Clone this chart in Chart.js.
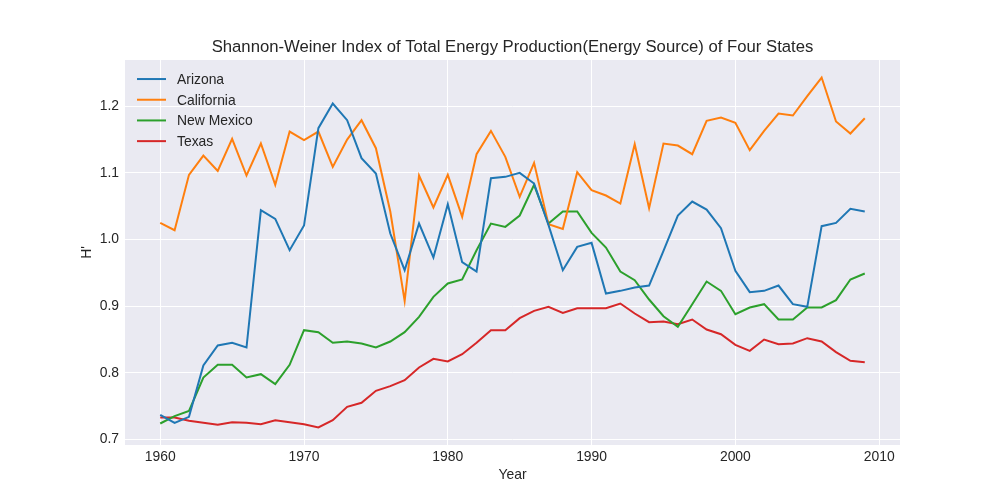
<!DOCTYPE html>
<html>
<head>
    <meta charset="utf-8">
    <script src="https://cdn.jsdelivr.net/npm/chart.js"></script>
    <style>
        body { margin: 0; background: #ffffff; }
    </style>
</head>
<body>
    <canvas id="myChart" width="1000" height="500"></canvas>
    <script>
        // values (Shannon-Weiner index H')
        var years = [1960, 1961, 1962, 1963, 1964, 1965, 1966, 1967, 1968, 1969,
                     1970, 1971, 1972, 1973, 1974, 1975, 1976, 1977, 1978, 1979,
                     1980, 1981, 1982, 1983, 1984, 1985, 1986, 1987, 1988, 1989,
                     1990, 1991, 1992, 1993, 1994, 1995, 1996, 1997, 1998, 1999,
                     2000, 2001, 2002, 2003, 2004, 2005, 2006, 2007, 2008, 2009];

        var arizona = [0.737, 0.725, 0.734, 0.811, 0.841, 0.845, 0.838, 1.044, 1.031, 0.984,
                       1.021, 1.167, 1.204, 1.179, 1.122, 1.099, 1.009, 0.954, 1.024, 0.973,
                       1.053, 0.966, 0.952, 1.092, 1.094, 1.100, 1.084, 1.022, 0.954, 0.989,
                       0.995, 0.919, 0.923, 0.928, 0.931, 0.983, 1.036, 1.057, 1.045, 1.017,
                       0.953, 0.921, 0.923, 0.931, 0.903, 0.899, 1.020, 1.025, 1.046, 1.042];

        var california = [1.025, 1.014, 1.097, 1.126, 1.103, 1.151, 1.096, 1.144, 1.082, 1.162,
                          1.149, 1.162, 1.109, 1.150, 1.179, 1.137, 1.042, 0.908, 1.096, 1.048,
                          1.097, 1.034, 1.128, 1.163, 1.124, 1.064, 1.115, 1.023, 1.016, 1.101,
                          1.074, 1.066, 1.054, 1.143, 1.047, 1.144, 1.141, 1.128, 1.178, 1.183,
                          1.175, 1.134, 1.163, 1.189, 1.186, 1.215, 1.243, 1.177, 1.159, 1.182];

        var newMexico = [0.724, 0.735, 0.743, 0.793, 0.812, 0.812, 0.793, 0.798, 0.783, 0.812,
                         0.864, 0.861, 0.845, 0.847, 0.844, 0.838, 0.847, 0.861, 0.884, 0.914,
                         0.934, 0.940, 0.984, 1.024, 1.019, 1.036, 1.082, 1.024, 1.042, 1.042,
                         1.010, 0.988, 0.952, 0.939, 0.910, 0.885, 0.869, 0.903, 0.937, 0.923,
                         0.888, 0.898, 0.903, 0.880, 0.880, 0.898, 0.898, 0.909, 0.940, 0.949];

        var texas = [0.733, 0.733, 0.728, 0.725, 0.722, 0.726, 0.725, 0.723, 0.729, 0.726,
                     0.723, 0.718, 0.729, 0.749, 0.755, 0.773, 0.780, 0.789, 0.808, 0.821,
                     0.817, 0.828, 0.845, 0.864, 0.864, 0.882, 0.893, 0.899, 0.890, 0.897,
                     0.897, 0.897, 0.904, 0.889, 0.876, 0.877, 0.873, 0.880, 0.865, 0.858,
                     0.842, 0.833, 0.850, 0.843, 0.844, 0.852, 0.847, 0.831, 0.818, 0.816];

        var xTicks = [1960, 1970, 1980, 1990, 2000, 2010];
        var yTicks = [0.7, 0.8, 0.9, 1.0, 1.1, 1.2];

        var FONT = "'Liberation Sans', Arial, sans-serif";
        var TEXT = '#262626';

        function points(values) {
            return values.map(function (v, i) { return { x: years[i], y: v }; });
        }

        function series(label, values, color) {
            return {
                label: label,
                data: points(values),
                borderColor: color,
                backgroundColor: color,
                borderWidth: 2,
                pointRadius: 0,
                tension: 0,
                fill: false
            };
        }

        // matplotlib style 5% margins around the data
        var allY = arizona.concat(california, newMexico, texas);
        var yMin = Math.min.apply(null, allY), yMax = Math.max.apply(null, allY);
        var yPad = (yMax - yMin) * 0.05;
        var xPad = (years[years.length - 1] - years[0]) * 0.05;

        // grey plot background like seaborn darkgrid
        var plotBackground = {
            id: 'plotBackground',
            beforeDraw: function (chart) {
                var a = chart.chartArea, ctx = chart.ctx;
                ctx.save();
                ctx.fillStyle = '#eaeaf2';
                ctx.fillRect(a.left, a.top, a.right - a.left, a.bottom - a.top);
                ctx.restore();
            }
        };

        // frameless legend in the upper left corner of the plot
        var innerLegend = {
            id: 'innerLegend',
            afterDatasetsDraw: function (chart) {
                var a = chart.chartArea, ctx = chart.ctx;
                ctx.save();
                ctx.font = '13.9px ' + FONT;
                ctx.textBaseline = 'middle';
                ctx.textAlign = 'left';
                chart.data.datasets.forEach(function (ds, i) {
                    var y = a.top + 19 + i * 20.7;
                    ctx.strokeStyle = ds.borderColor;
                    ctx.lineWidth = 2;
                    ctx.beginPath();
                    ctx.moveTo(a.left + 12, y);
                    ctx.lineTo(a.left + 41, y);
                    ctx.stroke();
                    ctx.fillStyle = TEXT;
                    ctx.fillText(ds.label, a.left + 52, y + 1);
                });
                ctx.restore();
            }
        };

        var ctx = document.getElementById('myChart').getContext('2d');
        var myChart = new Chart(ctx, {
            type: 'line',
            data: {
                datasets: [
                    series('Arizona', arizona, '#1f77b4'),
                    series('California', california, '#ff7f0e'),
                    series('New Mexico', newMexico, '#2ca02c'),
                    series('Texas', texas, '#d62728')
                ]
            },
            options: {
                responsive: false,
                animation: false,
                devicePixelRatio: 1,
                layout: { padding: { left: 0, right: 100, top: 0, bottom: 0 } },
                plugins: {
                    legend: { display: false },
                    tooltip: { enabled: false },
                    title: {
                        display: true,
                        fullSize: false,
                        text: 'Shannon-Weiner Index of Total Energy Production(Energy Source) of Four States',
                        color: TEXT,
                        font: { family: FONT, size: 16.7, weight: 'normal', lineHeight: 1.2 },
                        padding: { top: 37, bottom: 3 }
                    }
                },
                scales: {
                    x: {
                        type: 'linear',
                        min: years[0] - xPad,
                        max: years[years.length - 1] + xPad,
                        afterBuildTicks: function (scale) {
                            scale.ticks = xTicks.map(function (v) { return { value: v }; });
                        },
                        afterFit: function (scale) { scale.height = 55; },
                        grid: { color: '#ffffff', lineWidth: 1, drawTicks: false },
                        border: { display: false },
                        ticks: {
                            color: TEXT,
                            padding: 4,
                            maxRotation: 0,
                            font: { family: FONT, size: 13.9 },
                            callback: function (v) { return String(v); }
                        },
                        title: {
                            display: true,
                            text: 'Year',
                            color: TEXT,
                            font: { family: FONT, size: 13.9 },
                            padding: { top: 0, bottom: 16 }
                        }
                    },
                    y: {
                        min: yMin - yPad,
                        max: yMax + yPad,
                        afterBuildTicks: function (scale) {
                            scale.ticks = yTicks.map(function (v) { return { value: v }; });
                        },
                        afterFit: function (scale) { scale.width = 125; },
                        grid: { color: '#ffffff', lineWidth: 1, drawTicks: false },
                        border: { display: false },
                        ticks: {
                            color: TEXT,
                            padding: 6,
                            font: { family: FONT, size: 13.9 },
                            callback: function (v) { return v.toFixed(1); }
                        },
                        title: {
                            display: true,
                            text: "H'",
                            color: TEXT,
                            font: { family: FONT, size: 13.9 },
                            padding: { top: 79, bottom: 0 }
                        }
                    }
                }
            },
            plugins: [plotBackground, innerLegend]
        });
    </script>
</body>
</html>
